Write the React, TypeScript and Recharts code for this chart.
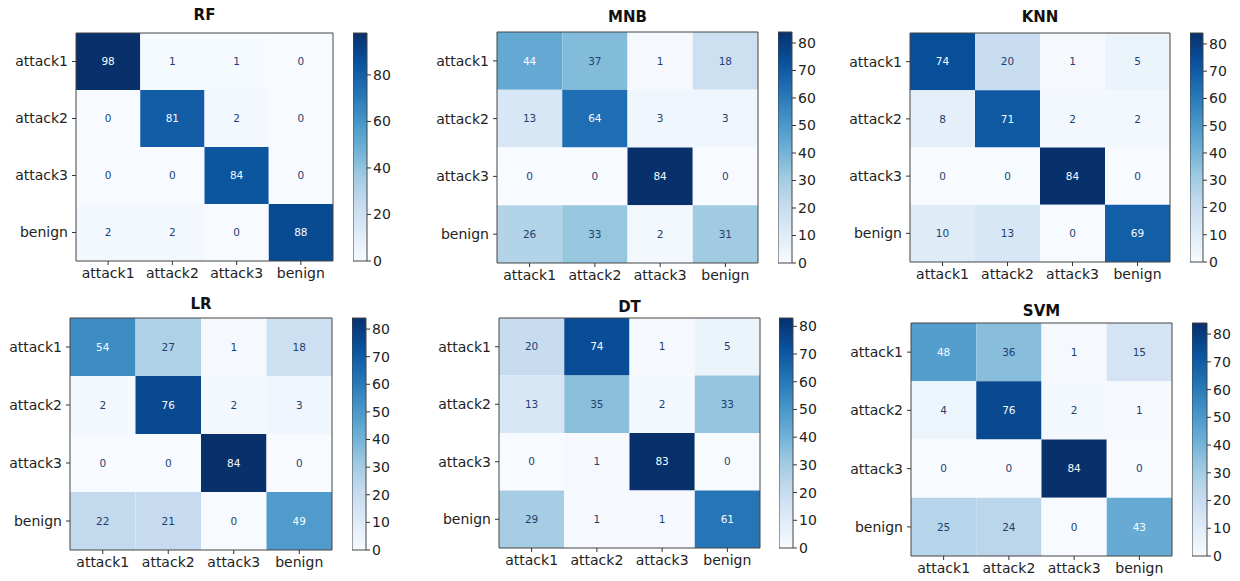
import React from 'react';
import { ScatterChart, Scatter, ComposedChart, XAxis, YAxis, ReferenceArea } from 'recharts';

// class labels shared by every matrix
const CLASSES = ['attack1', 'attack2', 'attack3', 'benign'];
const MODELS = ['RF', 'MNB', 'KNN', 'LR', 'DT', 'SVM'];

// confusion matrices, rows = true label, cols = predicted
const RF = [[98, 1, 1, 0], [0, 81, 2, 0], [0, 0, 84, 0], [2, 2, 0, 88]];
const MNB = [[44, 37, 1, 18], [13, 64, 3, 3], [0, 0, 84, 0], [26, 33, 2, 31]];
const KNN = [[74, 20, 1, 5], [8, 71, 2, 2], [0, 0, 84, 0], [10, 13, 0, 69]];
const LR = [[54, 27, 1, 18], [2, 76, 2, 3], [0, 0, 84, 0], [22, 21, 0, 49]];
const DT = [[20, 74, 1, 5], [13, 35, 2, 33], [0, 1, 83, 0], [29, 1, 1, 61]];
const SVM = [[48, 36, 1, 15], [4, 76, 2, 1], [0, 0, 84, 0], [25, 24, 0, 43]];

const CBAR_TICKS_RF = [0, 20, 40, 60, 80];
const CBAR_TICKS = [0, 10, 20, 30, 40, 50, 60, 70, 80];

const MATRICES = [RF, MNB, KNN, LR, DT, SVM];
const CBAR_TICKS_BY_MODEL = [CBAR_TICKS_RF, CBAR_TICKS, CBAR_TICKS, CBAR_TICKS, CBAR_TICKS, CBAR_TICKS];

// where each panel sits on the page (plot box, colorbar x range, title centre y)
const LAYOUT = [
  { x0: 76, y0: 33, x1: 333, y1: 261, bx0: 353, bx1: 367, ty: 15 },
  { x0: 497, y0: 32, x1: 758, y1: 263, bx0: 778, bx1: 792, ty: 17 },
  { x0: 910, y0: 33, x1: 1170, y1: 262, bx0: 1190, bx1: 1203, ty: 17 },
  { x0: 70, y0: 318, x1: 332, y1: 550, bx0: 352, bx1: 366, ty: 304 },
  { x0: 499, y0: 318, x1: 760, y1: 548, bx0: 779, bx1: 793, ty: 307 },
  { x0: 911, y0: 323, x1: 1172, y1: 556, bx0: 1192, bx1: 1207, ty: 311 },
];

const FONT = '"DejaVu Sans", Verdana, sans-serif';
const BLUES = ['#f7fbff', '#deebf7', '#c6dbef', '#9ecae1', '#6baed6', '#4292c6', '#2171b5', '#08519c', '#08306b'];
const FRAME = '#444';

function hexToRgb(h: string) {
  return [1, 3, 5].map((i) => parseInt(h.slice(i, i + 2), 16));
}

function blues(t: number) {
  const tt = Math.max(0, Math.min(1, t)) * (BLUES.length - 1);
  const i = Math.min(Math.floor(tt), BLUES.length - 2);
  const f = tt - i;
  const a = hexToRgb(BLUES[i]);
  const b = hexToRgb(BLUES[i + 1]);
  const c = a.map((v, k) => Math.round(v + (b[k] - v) * f));
  return `rgb(${c[0]},${c[1]},${c[2]})`;
}

const YW = 70;
const XH = 30;
const PAD = 10; // room above/below the colorbar for its end labels

const Panel: React.FC<{ idx: number }> = ({ idx }) => {
  const m = MATRICES[idx];
  const L = LAYOUT[idx];
  const flat = m.flat();
  const vmax = Math.max(...flat);
  const vmin = Math.min(...flat);
  const thresh = (vmax + vmin) / 2;
  const cells = m.flatMap((row, r) => row.map((v, c) => ({ x: c, y: r, v })));
  const w = L.x1 - L.x0;
  const h = L.y1 - L.y0;
  const cbw = L.bx1 - L.bx0;
  const tickStyle = { fill: '#222', fontSize: 14, fontFamily: FONT };

  return (
    <>
      <div
        style={{
          position: 'absolute', left: L.x0, top: L.ty - 10, width: w, textAlign: 'center',
          fontFamily: FONT, fontWeight: 'bold', fontSize: 15, lineHeight: '20px', color: '#111',
        }}
      >
        {MODELS[idx]}
      </div>

      <div style={{ position: 'absolute', left: L.x0 - YW, top: L.y0 - 1 }}>
        <ScatterChart width={YW + w + 1} height={h + XH + 1} margin={{ top: 1, right: 1, bottom: 0, left: 0 }}>
          <XAxis
            dataKey="x" type="number" domain={[-0.5, 3.5]} ticks={[0, 1, 2, 3]} interval={0}
            tickFormatter={(i: number) => CLASSES[i]} axisLine={false} tickSize={4} tickMargin={3}
            tickLine={{ stroke: '#333' }} tick={tickStyle} height={XH} allowDataOverflow
          />
          <YAxis
            dataKey="y" type="number" domain={[-0.5, 3.5]} ticks={[0, 1, 2, 3]} interval={0} reversed
            tickFormatter={(i: number) => CLASSES[i]} axisLine={false} tickSize={4} tickMargin={4}
            tickLine={{ stroke: '#333' }} tick={tickStyle} width={YW} allowDataOverflow
          />
          {cells.map((d) => (
            <ReferenceArea
              key={`c-${d.x}-${d.y}`} x1={d.x - 0.5} x2={d.x + 0.5} y1={d.y - 0.5} y2={d.y + 0.5}
              fill={blues((d.v - vmin) / (vmax - vmin))} fillOpacity={1} stroke="none"
            />
          ))}
          <ReferenceArea x1={-0.5} x2={3.5} y1={-0.5} y2={3.5} fill="none" stroke={FRAME} strokeWidth={1} />
          <Scatter
            data={cells} isAnimationActive={false}
            shape={(p: any) => (
              <text
                x={p.cx} y={p.cy} dy="0.35em" textAnchor="middle" fontSize={10.5} fontFamily={FONT}
                fill={p.payload.v > thresh ? '#f7fbff' : '#1f3f6e'}
              >
                {p.payload.v}
              </text>
            )}
          />
        </ScatterChart>
      </div>

      <div style={{ position: 'absolute', left: L.bx0, top: L.y0 - PAD }}>
        <ComposedChart
          width={cbw + 40} height={h + 2 * PAD}
          margin={{ top: PAD, right: 0, bottom: PAD, left: 0 }} data={[{ x: 0.5, y: 0 }]}
        >
          <XAxis dataKey="x" type="number" domain={[0, 1]} hide />
          <YAxis
            dataKey="y" type="number" orientation="right" domain={[0, vmax]} ticks={CBAR_TICKS_BY_MODEL[idx]}
            interval={0} axisLine={false} tickSize={4} tickMargin={2} tickLine={{ stroke: '#333' }}
            tick={tickStyle} width={40} allowDataOverflow
          />
          <ReferenceArea x1={0} x2={1} y1={0} y2={vmax} fill="url(#bluesGrad)" fillOpacity={1} stroke={FRAME} strokeWidth={1} />
        </ComposedChart>
      </div>
    </>
  );
};

export default function App() {
  return (
    <div style={{ position: 'relative', width: 1240, height: 581, background: '#fff', overflow: 'hidden' }}>
      <style>{'body{margin:0}'}</style>
      <svg width={0} height={0} style={{ position: 'absolute' }}>
        <defs>
          <linearGradient id="bluesGrad" x1="0" y1="1" x2="0" y2="0">
            {BLUES.map((c, i) => (
              <stop key={c} offset={i / (BLUES.length - 1)} stopColor={c} />
            ))}
          </linearGradient>
        </defs>
      </svg>
      {MODELS.map((_, i) => (
        <Panel key={MODELS[i]} idx={i} />
      ))}
    </div>
  );
}
